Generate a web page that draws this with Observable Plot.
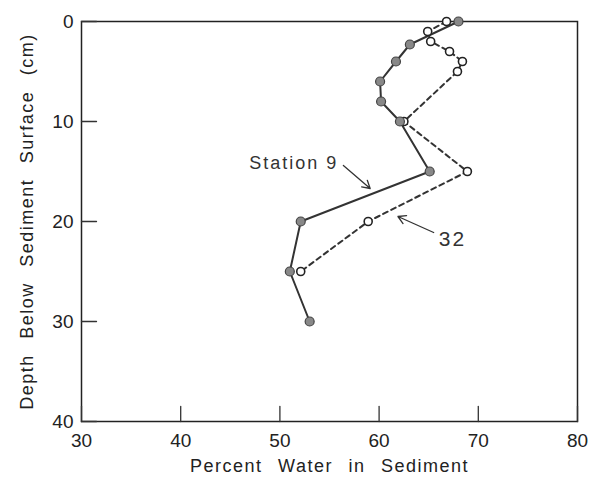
<!DOCTYPE html>
<html>
<head>
<meta charset="utf-8">
<script src="https://cdn.jsdelivr.net/npm/d3@7"></script>
<script src="https://cdn.jsdelivr.net/npm/@observablehq/plot@0.6"></script>
<style>
  html, body { margin: 0; padding: 0; background: #fff; }
  #chart svg { display: block; }
  #chart g.axislabel text { letter-spacing: 1.5px; word-spacing: 9px; }
  #chart g.note text { letter-spacing: 2px; }
</style>
</head>
<body>
<div id="chart"></div>
<script>
// Station 9 (filled circles, solid line)
const depth9 = [0, 2.3, 4, 6, 8, 10, 15, 20, 25, 30];
const water9 = [68, 63.1, 61.7, 60.1, 60.2, 62.1, 65.1, 52.1, 51, 53];
// Station 32 (open circles, dashed line)
const depth32 = [0, 1, 2, 3, 4, 5, 10, 15, 20, 25];
const water32 = [66.8, 64.9, 65.2, 67.1, 68.4, 67.9, 62.5, 68.9, 58.9, 52.1];

const xTicks = [30, 40, 50, 60, 70, 80];
const yTicks = [0, 10, 20, 30, 40];
const xLabel = "Percent Water in Sediment";
const yLabel = "Depth Below Sediment Surface (cm)";

// Annotations (data units)
const noteText = ["Station 9", "32"];
const noteX = [51.4, 67.4];
const noteY = [14.2, 21.8];
const noteSize = [18, 21];
const arrowX1 = [56.4, 65.5];
const arrowY1 = [14.4, 21.1];
const arrowX2 = [59.1, 61.9];
const arrowY2 = [16.7, 19.5];

const s9 = depth9.map((d, i) => ({depth: d, water: water9[i]}));
const s32 = depth32.map((d, i) => ({depth: d, water: water32[i]}));
const notes = noteText.map((t, i) => ({text: t, x: noteX[i], y: noteY[i], size: noteSize[i],
  x1: arrowX1[i], y1: arrowY1[i], x2: arrowX2[i], y2: arrowY2[i]}));

const font = "'Liberation Sans', Arial, sans-serif";
const stick = {draw(context, l) { context.moveTo(0, 0); context.lineTo(0, -l); }};

const chart = Plot.plot({
  width: 591,
  height: 485,
  marginLeft: 81,
  marginRight: 14,
  marginTop: 21,
  marginBottom: 64,
  x: {domain: [30, 80]},
  y: {domain: [0, 40], reverse: true},
  style: {fontFamily: font, fontSize: "18px", color: "#222", background: "#fff"},
  marks: [
    Plot.frame({stroke: "#222", strokeWidth: 1.5}),
    Plot.axisX(xTicks, {tickSize: 0, tickPadding: 12, tickFormat: d => String(d), label: null, fontSize: 19}),
    Plot.axisY(yTicks, {tickSize: 0, tickPadding: 8, tickFormat: d => String(d), label: null, fontSize: 19}),
    // inward ticks
    Plot.vector(xTicks, {x: d => d, frameAnchor: "bottom", rotate: 0, length: 15, anchor: "start", shape: stick, stroke: "#333", strokeWidth: 1.3}),
    Plot.vector(yTicks, {y: d => d, frameAnchor: "left", rotate: 90, length: 15, anchor: "start", shape: stick, stroke: "#333", strokeWidth: 1.3}),
    // axis titles
    Plot.text([xLabel], {text: d => d, frameAnchor: "bottom", dy: 50, fontSize: 18, fill: "#222", className: "axislabel"}),
    Plot.text([yLabel], {text: d => d, frameAnchor: "left", textAnchor: "middle", dx: -54, rotate: -90, fontSize: 18, fill: "#222", className: "axislabel"}),
    Plot.line(s32, {x: "water", y: "depth", stroke: "#333", strokeWidth: 2, strokeDasharray: "5,4"}),
    Plot.line(s9, {x: "water", y: "depth", stroke: "#333", strokeWidth: 2}),
    Plot.dot(s32, {x: "water", y: "depth", r: 4, fill: "#fff", stroke: "#222", strokeWidth: 1.6}),
    Plot.dot(s9, {x: "water", y: "depth", r: 4.5, fill: "#888", stroke: "#444", strokeWidth: 1.2}),
    Plot.arrow(notes, {x1: "x1", y1: "y1", x2: "x2", y2: "y2", stroke: "#333", strokeWidth: 1.3, headLength: 10, bend: 0}),
    Plot.text(notes, {x: "x", y: "y", text: "text", fontSize: "size", fill: "#333", fontWeight: 500, className: "note"})
  ]
});
document.getElementById("chart").appendChild(chart);
</script>
</body>
</html>
